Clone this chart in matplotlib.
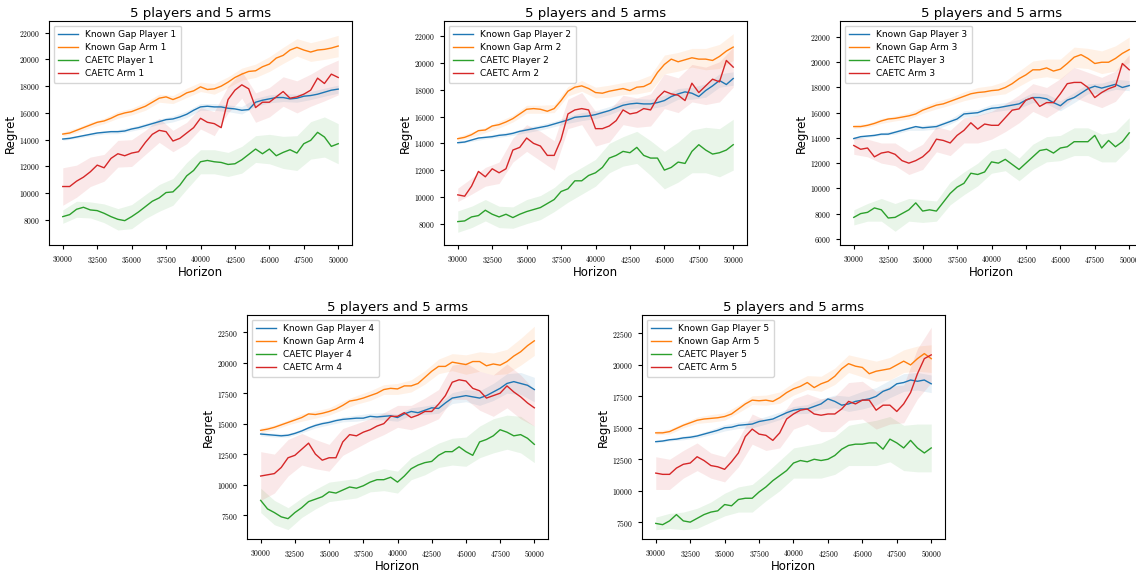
import numpy as np
import matplotlib
matplotlib.use("Agg")
import matplotlib.pyplot as plt
from matplotlib.ticker import FuncFormatter

plt.rcParams['mathtext.fontset'] = 'cm'
plt.rcParams['font.family'] = ['DejaVu Sans']

# sample grid of the horizon (every 500) and of the bands (every 1000)
horizon = list(range(30000, 50001, 500))
horizon_band = list(range(30000, 50001, 1000))

# ---- plot 1 ----
kg_player_1 = [14050, 14100, 14200, 14300, 14400, 14500, 14550, 14600, 14600, 14650, 14800, 14900, 15050, 15200,
               15350, 15500, 15550, 15700, 15900, 16200, 16450, 16500, 16450, 16450, 16350, 16300, 16200, 16250,
               16800, 16950, 17050, 17150, 17150, 17050, 17100, 17250, 17300, 17400, 17550, 17700, 17780]
kg_arm_1 = [14420, 14500, 14700, 14900, 15100, 15300, 15400, 15600, 15850, 16000, 16100, 16300, 16500, 16800,
            17100, 17200, 17000, 17200, 17500, 17650, 17950, 17750, 17800, 18000, 18300, 18650, 18900, 19100,
            19150, 19450, 19650, 20100, 20300, 20700, 20900, 20700, 20550, 20700, 20750, 20850, 21000]
caetc_player_1 = [8250, 8400, 8800, 8950, 8750, 8700, 8500, 8250, 8050, 7950, 8250, 8600, 9000, 9400, 9650,
                  10050, 10100, 10600, 11300, 11700, 12350, 12450, 12350, 12300, 12150, 12200, 12500, 12900,
                  13300, 12950, 13300, 12800, 13050, 13250, 13000, 13700, 13950, 14550, 14200, 13500, 13700]
caetc_arm_1 = [10500, 10500, 10900, 11200, 11600, 12100, 11900, 12600, 12950, 12800, 13000, 13100, 13800, 14400,
               14700, 14600, 13900, 14100, 14500, 14900, 15600, 15300, 15200, 14900, 17000, 17700, 18100, 17800,
               16400, 16800, 16800, 17200, 17600, 17100, 17200, 17400, 17700, 18600, 18200, 18900, 18650]
band_kg_player_1 = [100, 100, 120, 120, 150, 150, 180, 200, 220, 250, 250, 250, 250, 280, 300, 300, 300, 300, 300, 300, 300]
band_kg_arm_1 = [150, 180, 200, 200, 250, 250, 300, 300, 300, 350, 350, 400, 400, 450, 500, 550, 600, 650, 700, 750, 800]
band_caetc_player_1 = [500, 600, 600, 700, 800, 900, 900, 1000, 1000, 1000, 900, 900, 900, 1000, 1000, 1100, 1200, 1300, 1400, 1500, 1500]
band_caetc_arm_1 = [1400, 1200, 1100, 1000, 1000, 1000, 900, 900, 800, 800, 800, 900, 1000, 1000, 1100, 1100, 1100, 1200, 1200, 1300, 1300]

# ---- plot 2 ----
kg_player_2 = [14050, 14100, 14250, 14400, 14450, 14500, 14600, 14650, 14750, 14900, 15000, 15100, 15200, 15300,
               15450, 15600, 15750, 15950, 16000, 16050, 16150, 16300, 16450, 16650, 16850, 16950, 17000, 16950,
               16950, 17050, 17200, 17500, 17700, 17850, 17750, 17500, 17950, 18300, 18700, 18400, 18850]
kg_arm_2 = [14350, 14450, 14650, 14950, 15000, 15300, 15400, 15600, 15850, 16200, 16550, 16600, 16550, 16400,
            16600, 17200, 17900, 18200, 18300, 18100, 17800, 17750, 17900, 18000, 18100, 17950, 18200, 18250,
            18500, 19300, 19900, 20300, 20100, 20250, 20400, 20300, 20300, 20200, 20500, 20900, 21200]
caetc_player_2 = [8150, 8200, 8500, 8600, 9000, 8700, 8500, 8700, 8450, 8700, 8900, 9050, 9200, 9500, 9800,
                  10400, 10600, 11200, 11200, 11600, 11800, 12200, 12900, 13100, 13400, 13300, 13700, 13100,
                  12900, 12900, 12000, 12200, 12600, 12500, 13400, 13900, 13500, 13200, 13300, 13500, 13900]
caetc_arm_2 = [10150, 10050, 10800, 11900, 11500, 12100, 11800, 12100, 13500, 13700, 14400, 14000, 13800, 13100,
               13100, 14300, 16200, 16500, 16600, 16500, 15100, 15100, 15300, 15700, 16500, 16200, 16300, 16600,
               16500, 17400, 17900, 17700, 17600, 17200, 18500, 17800, 18300, 18800, 18600, 20200, 19700]
band_kg_player_2 = [100, 100, 120, 150, 150, 200, 200, 200, 250, 300, 300, 300, 300, 350, 350, 400, 400, 450, 500, 500, 500]
band_kg_arm_2 = [150, 200, 200, 250, 250, 300, 300, 300, 350, 400, 400, 450, 450, 500, 600, 700, 700, 700, 800, 900, 1000]
band_caetc_player_2 = [800, 800, 800, 800, 800, 900, 900, 900, 1000, 1000, 1000, 1100, 1100, 1200, 1300, 1400, 1500, 1600, 1700, 1800, 1900]
band_caetc_arm_2 = [500, 600, 700, 800, 900, 1000, 1100, 1100, 1100, 1200, 1300, 1200, 1100, 1100, 1200, 1300, 1300, 1400, 1400, 1500, 1500]

# ---- plot 3 ----
kg_player_3 = [13950, 14100, 14150, 14200, 14300, 14300, 14450, 14600, 14750, 14900, 14800, 14850, 14900, 15100,
               15300, 15500, 15900, 15950, 16000, 16200, 16350, 16400, 16500, 16600, 16700, 17000, 17200, 17200,
               17100, 16800, 16550, 17000, 17200, 17550, 17900, 18100, 17950, 18100, 18250, 18000, 18150]
kg_arm_3 = [14900, 14900, 15000, 15150, 15350, 15500, 15550, 15650, 15750, 15900, 16200, 16400, 16600, 16700,
            16900, 17100, 17300, 17500, 17600, 17650, 17750, 17800, 18000, 18300, 18700, 19000, 19400, 19400,
            19550, 19300, 19450, 19900, 20400, 20600, 20300, 19900, 20000, 20000, 20300, 20700, 21000]
caetc_player_3 = [7700, 8000, 8100, 8450, 8300, 7650, 7700, 8000, 8300, 8850, 8200, 8300, 8200, 8900, 9600,
                  10100, 10400, 11200, 11100, 11300, 12100, 12000, 12300, 11900, 11500, 12000, 12500, 13000,
                  13100, 12800, 13200, 13300, 13700, 13700, 13700, 14200, 13200, 13800, 13300, 13700, 14400]
caetc_arm_3 = [13400, 13100, 13200, 12500, 12800, 12900, 12700, 12200, 12000, 12200, 12500, 13000, 13900, 13800,
               13600, 14200, 14600, 15200, 14700, 15100, 15000, 15000, 15600, 16200, 16300, 17000, 17200, 16500,
               16800, 16800, 17500, 18300, 18400, 18400, 18000, 17200, 17600, 17900, 18100, 19900, 19400]
band_kg_player_3 = [100, 100, 100, 150, 150, 200, 200, 200, 250, 250, 300, 300, 350, 400, 400, 400, 400, 400, 400, 400, 400]
band_kg_arm_3 = [150, 150, 200, 200, 250, 250, 300, 300, 350, 400, 400, 500, 600, 700, 700, 800, 800, 800, 900, 1000, 1000]
band_caetc_player_3 = [600, 700, 900, 1100, 900, 900, 800, 900, 900, 900, 900, 900, 900, 1000, 1000, 1000, 1100, 1100, 1100, 1200, 1200]
band_caetc_arm_3 = [700, 700, 800, 900, 900, 1000, 1000, 1000, 1000, 1100, 1100, 1100, 1100, 1100, 1200, 1200, 1200, 1200, 1200, 1200, 1200]

# ---- plot 4 ----
kg_player_4 = [14150, 14100, 14050, 14000, 14050, 14200, 14400, 14650, 14850, 15000, 15100, 15250, 15350, 15400,
               15450, 15450, 15600, 15550, 15600, 15650, 15500, 15800, 16000, 15900, 16100, 16300, 16250, 16700,
               17100, 17200, 17300, 17200, 17100, 17300, 17600, 17900, 18300, 18450, 18300, 18150, 17800]
kg_arm_4 = [14450, 14550, 14700, 14900, 15100, 15300, 15500, 15800, 15750, 15850, 16000, 16200, 16500, 16850,
            16950, 17100, 17300, 17500, 17800, 17900, 17850, 18100, 18100, 18300, 18800, 19300, 19700, 19700,
            20050, 19950, 19850, 20100, 20100, 19750, 19900, 19800, 20100, 20550, 20900, 21400, 21800]
caetc_player_4 = [8700, 8000, 7700, 7350, 7200, 7700, 8100, 8600, 8800, 9000, 9400, 9300, 9550, 9800, 9700,
                  9900, 10200, 10400, 10400, 10600, 10200, 10700, 11300, 11600, 11800, 11900, 12400, 12700,
                  12700, 13100, 12700, 12400, 13500, 13700, 14000, 14500, 14300, 14000, 14100, 13800, 13300]
caetc_arm_4 = [10700, 10800, 10900, 11400, 12200, 12400, 12900, 13400, 12500, 12000, 12200, 12200, 13500, 14100,
               14000, 14300, 14500, 14800, 15000, 15600, 15600, 15900, 15500, 15700, 16000, 16000, 16600, 17300,
               18400, 18600, 18500, 17900, 17700, 17100, 17300, 17500, 18100, 17600, 17200, 16700, 16300]
band_kg_player_4 = [150, 150, 150, 150, 200, 200, 200, 250, 250, 300, 300, 300, 350, 400, 450, 500, 600, 700, 800, 900, 1000]
band_kg_arm_4 = [200, 200, 200, 300, 300, 300, 350, 350, 400, 400, 450, 500, 550, 600, 700, 800, 800, 900, 1000, 1100, 1200]
band_caetc_player_4 = [1000, 1000, 900, 800, 800, 800, 800, 800, 800, 900, 900, 900, 1000, 1000, 1100, 1200, 1300, 1400, 1400, 1500, 1500]
band_caetc_arm_4 = [2000, 1600, 1500, 1300, 1200, 1100, 1100, 1000, 900, 900, 900, 1000, 1100, 1200, 1400, 1500, 1600, 1700, 1800, 1800, 1500]

# ---- plot 5 ----
kg_player_5 = [13900, 13950, 14050, 14100, 14200, 14250, 14350, 14500, 14650, 14800, 15000, 15050, 15200, 15250,
               15300, 15500, 15600, 15700, 15950, 16200, 16400, 16500, 16500, 16700, 16900, 17300, 17100, 16800,
               16900, 17100, 17200, 17300, 17500, 17900, 18100, 18500, 18600, 18800, 18700, 18800, 18500]
kg_arm_5 = [14600, 14600, 14700, 14950, 15200, 15400, 15600, 15700, 15750, 15800, 15900, 16100, 16500, 16900,
            17200, 17150, 17200, 17100, 17400, 17800, 18100, 18300, 18600, 18200, 18500, 18700, 19100, 19700,
            20100, 19900, 19800, 19300, 19500, 19600, 19700, 20000, 20300, 20000, 20500, 20900, 20500]
caetc_player_5 = [7400, 7300, 7600, 8100, 7600, 7500, 7800, 8100, 8300, 8400, 8900, 8800, 9300, 9400, 9400,
                  9900, 10300, 10800, 11200, 11600, 12200, 12400, 12300, 12500, 12400, 12500, 12800, 13300,
                  13600, 13700, 13700, 13800, 13800, 13300, 14100, 13800, 13400, 14000, 13400, 13000, 13400]
caetc_arm_5 = [11400, 11300, 11300, 11800, 12100, 12200, 12700, 12400, 12000, 11900, 11700, 12300, 13000, 14300,
               14900, 14500, 14400, 14000, 14600, 15700, 16100, 16400, 16500, 16100, 16000, 16100, 16100, 16500,
               17100, 16900, 17200, 17200, 16400, 16800, 16800, 16300, 16900, 17800, 19300, 20500, 20800]
band_kg_player_5 = [100, 100, 150, 150, 200, 250, 250, 300, 300, 300, 300, 350, 400, 500, 600, 700, 700, 700, 700, 700, 700]
band_kg_arm_5 = [150, 200, 200, 250, 300, 300, 300, 350, 400, 450, 500, 550, 600, 650, 700, 750, 800, 900, 900, 1000, 1100]
band_caetc_player_5 = [500, 600, 700, 800, 800, 900, 1000, 1100, 1100, 1200, 1200, 1300, 1400, 1500, 1600, 1700, 1800, 1800, 1800, 1900, 1900]
band_caetc_arm_5 = [1300, 1200, 1100, 1100, 1000, 1000, 1100, 1200, 1200, 1200, 1200, 1200, 1300, 1400, 1500, 1500, 1500, 1500, 1500, 2000, 2200]

plots = [
    (kg_player_1, kg_arm_1, caetc_player_1, caetc_arm_1,
     band_kg_player_1, band_kg_arm_1, band_caetc_player_1, band_caetc_arm_1),
    (kg_player_2, kg_arm_2, caetc_player_2, caetc_arm_2,
     band_kg_player_2, band_kg_arm_2, band_caetc_player_2, band_caetc_arm_2),
    (kg_player_3, kg_arm_3, caetc_player_3, caetc_arm_3,
     band_kg_player_3, band_kg_arm_3, band_caetc_player_3, band_caetc_arm_3),
    (kg_player_4, kg_arm_4, caetc_player_4, caetc_arm_4,
     band_kg_player_4, band_kg_arm_4, band_caetc_player_4, band_caetc_arm_4),
    (kg_player_5, kg_arm_5, caetc_player_5, caetc_arm_5,
     band_kg_player_5, band_kg_arm_5, band_caetc_player_5, band_caetc_arm_5),
]

ylims = [(6130, 22870), (6400, 23150), (5510, 23270), (5530, 23920), (6160, 23970)]
yticks = [range(8000, 22001, 2000), range(8000, 22001, 2000), range(6000, 22001, 2000),
          range(7500, 22501, 2500), range(7500, 22501, 2500)]

W, H = 1136, 572
# axes boxes in pixels: left, top, right, bottom
boxes = [(49, 21, 352, 245), (444, 21, 747, 245), (840, 21, 1143, 245),
         (247, 315, 548, 539), (642, 315, 945, 539)]

fig = plt.figure(figsize=(W / 100, H / 100), dpi=100)
colors = ['C0', 'C1', 'C2', 'C3']
tex = FuncFormatter(lambda v, p: r'$%d$' % v)

for i, (data, box) in enumerate(zip(plots, boxes)):
    l, t, r, b = box
    ax = fig.add_axes([l / W, (H - b) / H, (r - l) / W, (b - t) / H])
    n = i + 1
    labels = ['Known Gap Player %d' % n, 'Known Gap Arm %d' % n,
              'CAETC Player %d' % n, 'CAETC Arm %d' % n]
    for k in range(4):
        mean = np.array(data[k])
        band = np.array(data[k + 4])
        ax.plot(horizon, mean, color=colors[k], lw=1.0, label=labels[k])
        m2 = mean[::2]
        ax.fill_between(horizon_band, m2 - band, m2 + band, color=colors[k], alpha=0.1, lw=0)
    ax.set_xlim(29000, 51000)
    ax.set_ylim(*ylims[i])
    ax.set_xticks(range(30000, 50001, 2500))
    ax.set_yticks(list(yticks[i]))
    ax.xaxis.set_major_formatter(tex)
    ax.yaxis.set_major_formatter(tex)
    ax.tick_params(labelsize=5.5, length=3, width=0.8)
    ax.set_title('5 players and 5 arms', fontsize=9.5, pad=3)
    ax.set_xlabel('Horizon', fontsize=8.5, labelpad=1)
    ax.set_ylabel('Regret', fontsize=8.5, labelpad=2)
    ax.legend(loc='upper left', fontsize=6.5, handlelength=2.2, borderpad=0.5, labelspacing=0.45)

fig.savefig('out.png', dpi=100)
